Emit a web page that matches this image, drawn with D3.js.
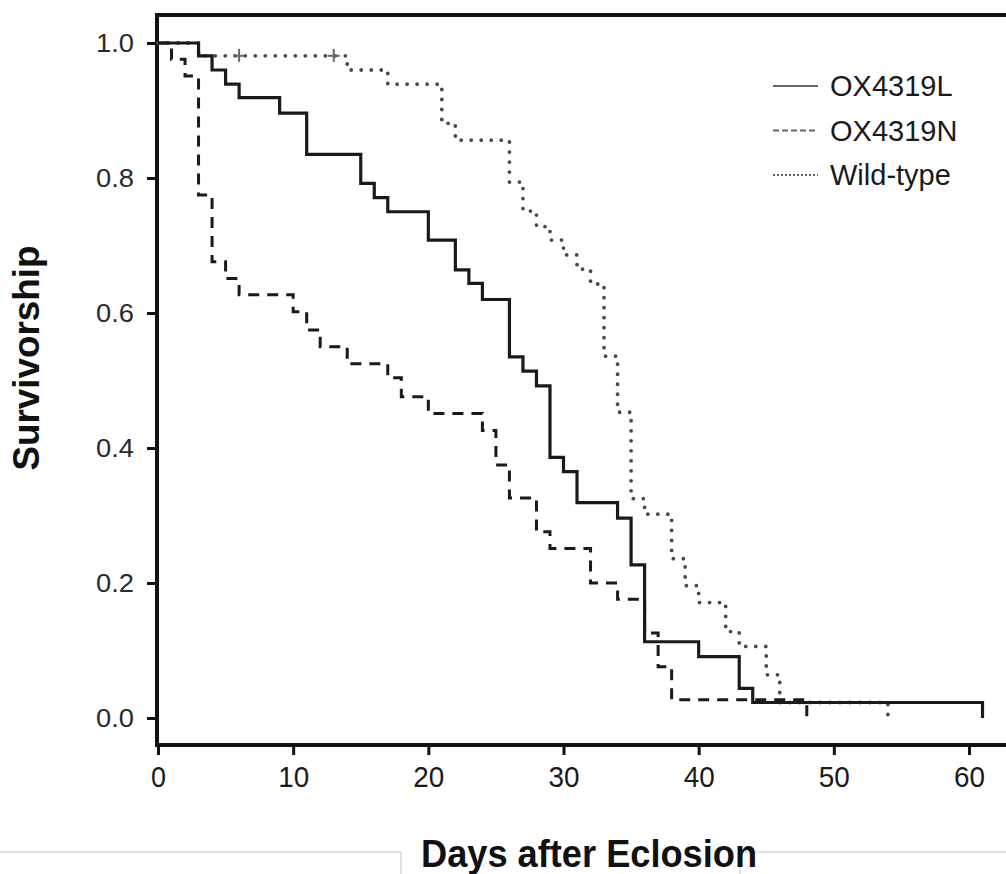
<!DOCTYPE html>
<html>
<head>
<meta charset="utf-8">
<script src="https://cdn.jsdelivr.net/npm/d3@7"></script>
<style>
  html, body { margin: 0; padding: 0; background: #fff; }
  svg { display: block; }
  text { font-family: "Liberation Sans", Arial, Helvetica, sans-serif; }
</style>
</head>
<body>
<svg id="chart" width="1006" height="874"></svg>
<script>
// Kaplan-Meier survivorship, days after eclosion
const seriesNames = ["OX4319L", "OX4319N", "Wild-type"];

const lDays = [0, 3, 4, 5, 6, 9, 11, 15, 16, 17, 20, 22, 23, 24, 26, 27, 28, 29, 30, 31, 34, 35, 36, 40, 43, 44, 61];
const lSurv = [1, 0.981, 0.960, 0.939, 0.919, 0.896, 0.835, 0.792, 0.771, 0.750, 0.708, 0.664, 0.644, 0.620, 0.535, 0.514, 0.492, 0.386, 0.365, 0.319, 0.296, 0.227, 0.113, 0.091, 0.044, 0.023, 0];

const nDays = [0, 1, 2, 3, 4, 5, 6, 10, 11, 12, 14, 17, 18, 20, 24, 25, 26, 28, 29, 32, 34, 36, 37, 38, 48];
const nSurv = [1, 0.976, 0.951, 0.775, 0.676, 0.651, 0.627, 0.602, 0.575, 0.550, 0.525, 0.504, 0.476, 0.451, 0.426, 0.375, 0.326, 0.276, 0.251, 0.200, 0.176, 0.126, 0.076, 0.027, 0];

const wDays = [0, 3, 14, 17, 21, 22, 26, 27, 28, 29, 30, 31, 32, 33, 34, 35, 36, 38, 39, 40, 42, 43, 45, 46, 54];
const wSurv = [1, 0.981, 0.960, 0.939, 0.881, 0.856, 0.794, 0.751, 0.728, 0.708, 0.686, 0.665, 0.643, 0.536, 0.453, 0.325, 0.302, 0.236, 0.196, 0.171, 0.128, 0.106, 0.064, 0.023, 0];

// censored observations on the wild-type curve
const wCensorDays = [6, 13];
const wCensorSurv = [0.981, 0.981];

const xTicks = [0, 10, 20, 30, 40, 50, 60];
const yTicks = [0, 0.2, 0.4, 0.6, 0.8, 1.0];

const svg = d3.select("#chart");
svg.append("rect").attr("width", 1006).attr("height", 874).attr("fill", "#fff");

const x = d3.scaleLinear().domain([0, 60]).range([158, 969]);
const y = d3.scaleLinear().domain([0, 1]).range([718, 43]);

const ink = "#111";

// frame: left axis, top edge, bottom axis
svg.append("line").attr("x1", 157).attr("x2", 157).attr("y1", 13).attr("y2", 747)
  .attr("stroke", ink).attr("stroke-width", 4);
svg.append("line").attr("x1", 155).attr("x2", 1006).attr("y1", 15).attr("y2", 15)
  .attr("stroke", ink).attr("stroke-width", 4);
svg.append("line").attr("x1", 155).attr("x2", 1006).attr("y1", 745).attr("y2", 745)
  .attr("stroke", ink).attr("stroke-width", 4);

// y axis ticks and labels
const yAxis = svg.append("g").attr("transform", "translate(157,0)")
  .call(d3.axisLeft(y).tickValues(yTicks).tickSize(10).tickPadding(13).tickFormat(d3.format(".1f")));
yAxis.select(".domain").remove();
yAxis.selectAll(".tick line").attr("stroke", ink).attr("stroke-width", 3);
yAxis.selectAll(".tick text")
  .attr("fill", "#2a2a2a").attr("font-size", 26)
  .attr("textLength", 38).attr("lengthAdjust", "spacingAndGlyphs");

// x axis ticks and labels
const xAxis = svg.append("g").attr("transform", "translate(0,745)")
  .call(d3.axisBottom(x).tickValues(xTicks).tickSize(10).tickPadding(11));
xAxis.select(".domain").remove();
xAxis.selectAll(".tick line").attr("stroke", ink).attr("stroke-width", 3);
xAxis.selectAll(".tick text")
  .attr("fill", "#1a1a1a").attr("font-size", 30)
  .attr("textLength", d => d === 0 ? 15 : 31).attr("lengthAdjust", "spacingAndGlyphs");

// survival curves
const stepLine = d3.line().x(d => x(d[0])).y(d => y(d[1])).curve(d3.curveStepAfter);
const curves = [
  { days: lDays, surv: lSurv, stroke: "#1a1a1a", width: 3.2, dash: null, cap: "butt" },
  { days: nDays, surv: nSurv, stroke: "#1a1a1a", width: 3, dash: "11,8", cap: "butt" },
  { days: wDays, surv: wSurv, stroke: "#4a4a4a", width: 3.8, dash: "0.01,10", cap: "round" }
];
const plot = svg.append("g");
curves.slice().reverse().forEach(c => {
  plot.append("path")
    .datum(d3.zip(c.days, c.surv))
    .attr("d", stepLine)
    .attr("fill", "none")
    .attr("stroke", c.stroke)
    .attr("stroke-width", c.width)
    .attr("stroke-linecap", c.cap)
    .attr("stroke-dasharray", c.dash);
});

// censor marks
const censor = plot.append("g").attr("stroke", "#666").attr("stroke-width", 2);
d3.zip(wCensorDays, wCensorSurv).forEach(([d, s]) => {
  censor.append("line").attr("x1", x(d) - 6).attr("x2", x(d) + 6).attr("y1", y(s)).attr("y2", y(s));
  censor.append("line").attr("x1", x(d)).attr("x2", x(d)).attr("y1", y(s) - 7).attr("y2", y(s) + 6);
});

// legend
const legendStyles = [
  { dash: null, width: 2 },
  { dash: "6,3", width: 2 },
  { dash: "2,2", width: 2 }
];
const legend = svg.append("g");
seriesNames.forEach((name, i) => {
  const cy = 86 + i * 44.5;
  legend.append("line").attr("x1", 773).attr("x2", 818).attr("y1", cy).attr("y2", cy)
    .attr("stroke", "#666").attr("stroke-width", legendStyles[i].width)
    .attr("stroke-dasharray", legendStyles[i].dash);
  legend.append("text").attr("x", 830).attr("y", cy).attr("dy", "0.36em")
    .attr("font-size", 29).attr("fill", "#1a1a1a").text(name);
});

// panel outline strokes along the bottom
svg.append("path").attr("d", "M0,852H401V874").attr("fill", "none").attr("stroke", "#c4c4c4").attr("stroke-width", 1);
svg.append("path").attr("d", "M740,874V852H1006").attr("fill", "none").attr("stroke", "#c4c4c4").attr("stroke-width", 1);

// axis titles
svg.append("text").attr("x", 589).attr("y", 867).attr("text-anchor", "middle")
  .attr("font-size", 38).attr("font-weight", "bold").attr("fill", ink)
  .attr("textLength", 336).attr("lengthAdjust", "spacingAndGlyphs")
  .text("Days after Eclosion");
svg.append("text").attr("transform", "translate(39,358) rotate(-90)").attr("text-anchor", "middle")
  .attr("font-size", 36).attr("font-weight", "bold").attr("fill", ink)
  .attr("textLength", 225).attr("lengthAdjust", "spacingAndGlyphs")
  .text("Survivorship");
</script>
</body>
</html>
